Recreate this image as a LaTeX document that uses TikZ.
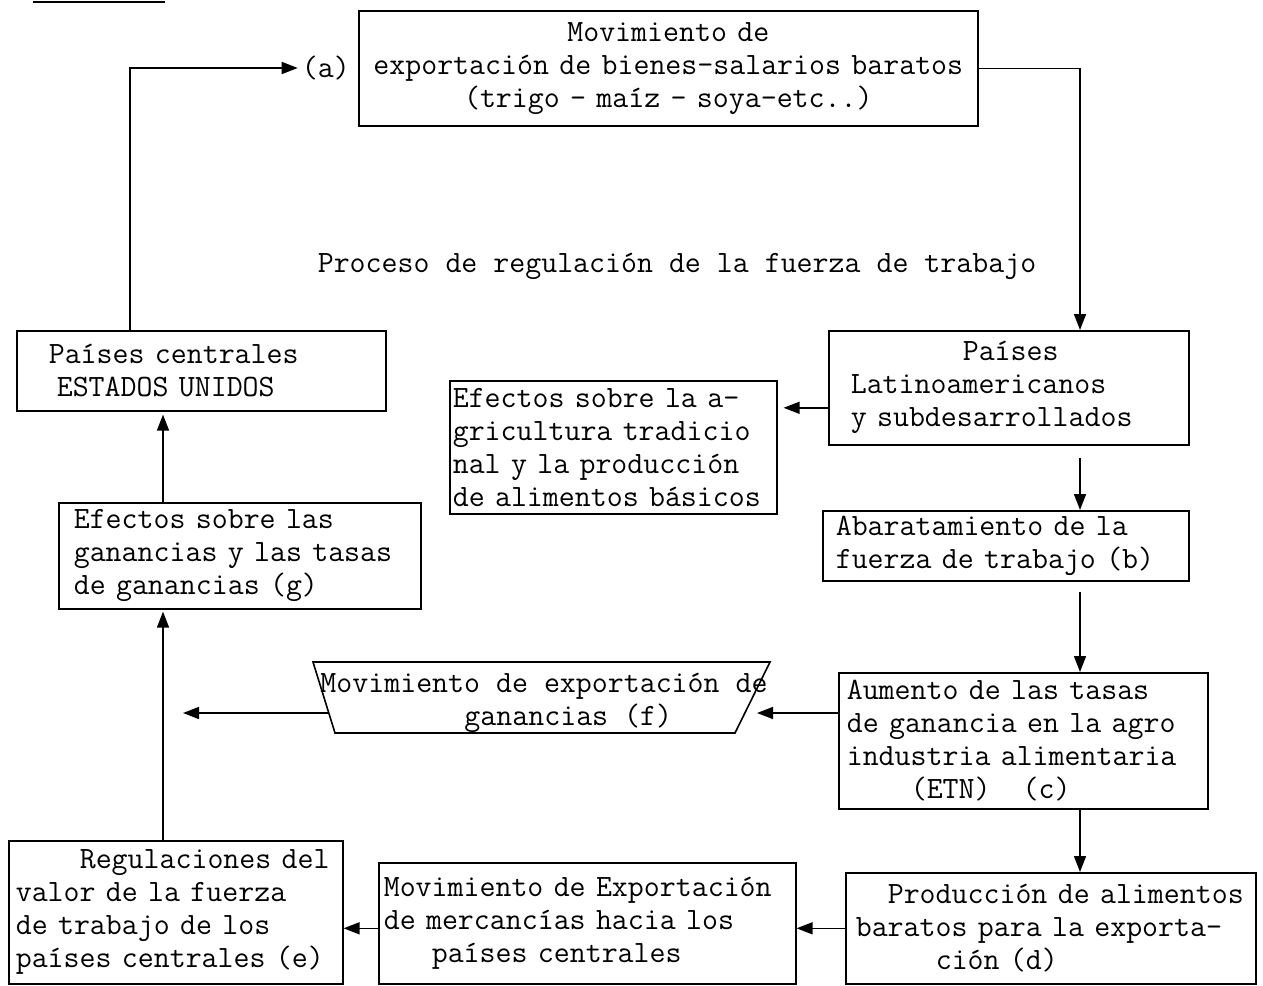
\documentclass[tikz,border=0pt]{standalone}
\usetikzlibrary{arrows.meta}
\newlength\cw
\setlength\cw{16pt}
\newcommand{\ind}[1]{\hspace*{#1\cw}}
\begin{document}
\begin{tikzpicture}[x=1pt,y=-1pt,box/.style={draw,line width=1.6pt,anchor=north west,align=left,inner ysep=0pt,font=\ttfamily\fontsize{31}{33}\selectfont},txt/.style={font=\ttfamily\fontsize{31}{33}\selectfont,inner sep=0pt},link/.style={line width=1.6pt,-{Triangle[length=16pt,width=12pt]}},rule/.style={line width=1.6pt}]
\useasboundingbox (0,0) rectangle (1263,985);

\coordinate (vy) at (130,0);
\coordinate (vx) at (163,0);
\coordinate (col) at (1080,0);

\draw[rule] (33,2) -- (165,2);

\node[box,inner xsep=0pt,text width=619pt,align=center,minimum height=115pt] (ME) at (358,10) {Movimiento de\\exportación de bienes-salarios baratos\\(trigo - maíz - soya-etc..)};
\node[txt,anchor=east] (a) at (350,68) {(a)};

\node[txt] (T) at (677,266) {Proceso de regulación de la fuerza de trabajo};

\node[box,inner xsep=32pt,text width=305pt,minimum height=80pt] (PC) at (16,330) {Países centrales\\\hspace*{8pt}ESTADOS UNIDOS};
\node[box,inner xsep=22pt,text width=316pt,minimum height=114pt] (PL) at (828,330) {\ind{7}Países\\Latinoamericanos\\y subdesarrollados};
\node[box,inner xsep=3pt,text width=321pt,minimum height=133pt] (EF) at (449,380) {Efectos sobre la a-\\gricultura tradicio\\nal y la producción\\de alimentos básicos};
\node[box,inner xsep=13pt,text width=340pt,minimum height=70pt] (AB) at (822,510) {Abaratamiento de la\\fuerza de trabajo (b)};
\node[box,inner xsep=15pt,text width=332pt,minimum height=106pt] (EG) at (58,502) {Efectos sobre las\\ganancias y las tasas\\de ganancias (g)};
\node[box,inner xsep=8pt,text width=353pt,minimum height=136pt] (AU) at (838,672) {Aumento de las tasas\\de ganancia en la agro\\industria alimentaria\\\ind{4}(ETN)\ind{2}(c)};
\node[box,inner xsep=10pt,text width=390pt,minimum height=111pt] (PR) at (845,872) {\ind{2}Producción de alimentos\\baratos para la exporta-\\\ind{5}ción (d)};
\node[box,inner xsep=5pt,text width=407pt,minimum height=121pt] (MX) at (378,862) {Movimiento de Exportación\\de mercancías hacia los\\\ind{3}países centrales};
\node[box,inner xsep=7pt,text width=320pt,minimum height=143pt] (RG) at (8,840) {\ind{4}Regulaciones del\\valor de la fuerza\\de trabajo de los\\países centrales (e)};

\node[txt,align=left] (MF) at (544,703) {Movimiento de exportación de\\\ind{9}ganancias (f)};
\coordinate (f1) at (313,662);
\coordinate (f2) at (770,662);
\coordinate (f3) at (735,733);
\coordinate (f4) at (335,733);
\draw[rule] (f1) -- (f2) -- (f3) -- (f4) -- cycle;
\coordinate (fR) at (757,713);
\coordinate (fL) at (329,713);
\coordinate (fX) at (183,713);

\draw[link,shorten >=4pt] (PC.north -| vy) |- (a.west);
\draw[link] (ME.east) -| (PL.north -| col);
\draw[link,shorten >=6pt] ([yshift=-20pt]PL.west) -- ([yshift=-20pt]PL.west -| EF.east);
\draw[link,shorten <=12pt] (PL.south -| col) -- (AB.north -| col);
\draw[link,shorten <=10pt] (AB.south -| col) -- (AU.north -| col);
\draw[link] (AU.south -| col) -- (PR.north -| col);
\draw[link] (AU.west |- fR) -- (fR);
\draw[link] (fL) -- (fX);
\draw[link] (PR.west) -- (PR.west -| MX.east);
\draw[link] (MX.west |- PR.west) -- (PR.west -| RG.east);
\draw[link,shorten >=2pt] (RG.north -| vx) -- (EG.south -| vx);
\draw[link,shorten >=3pt] (EG.north -| vx) -- (PC.south -| vx);
\end{tikzpicture}
\end{document}
